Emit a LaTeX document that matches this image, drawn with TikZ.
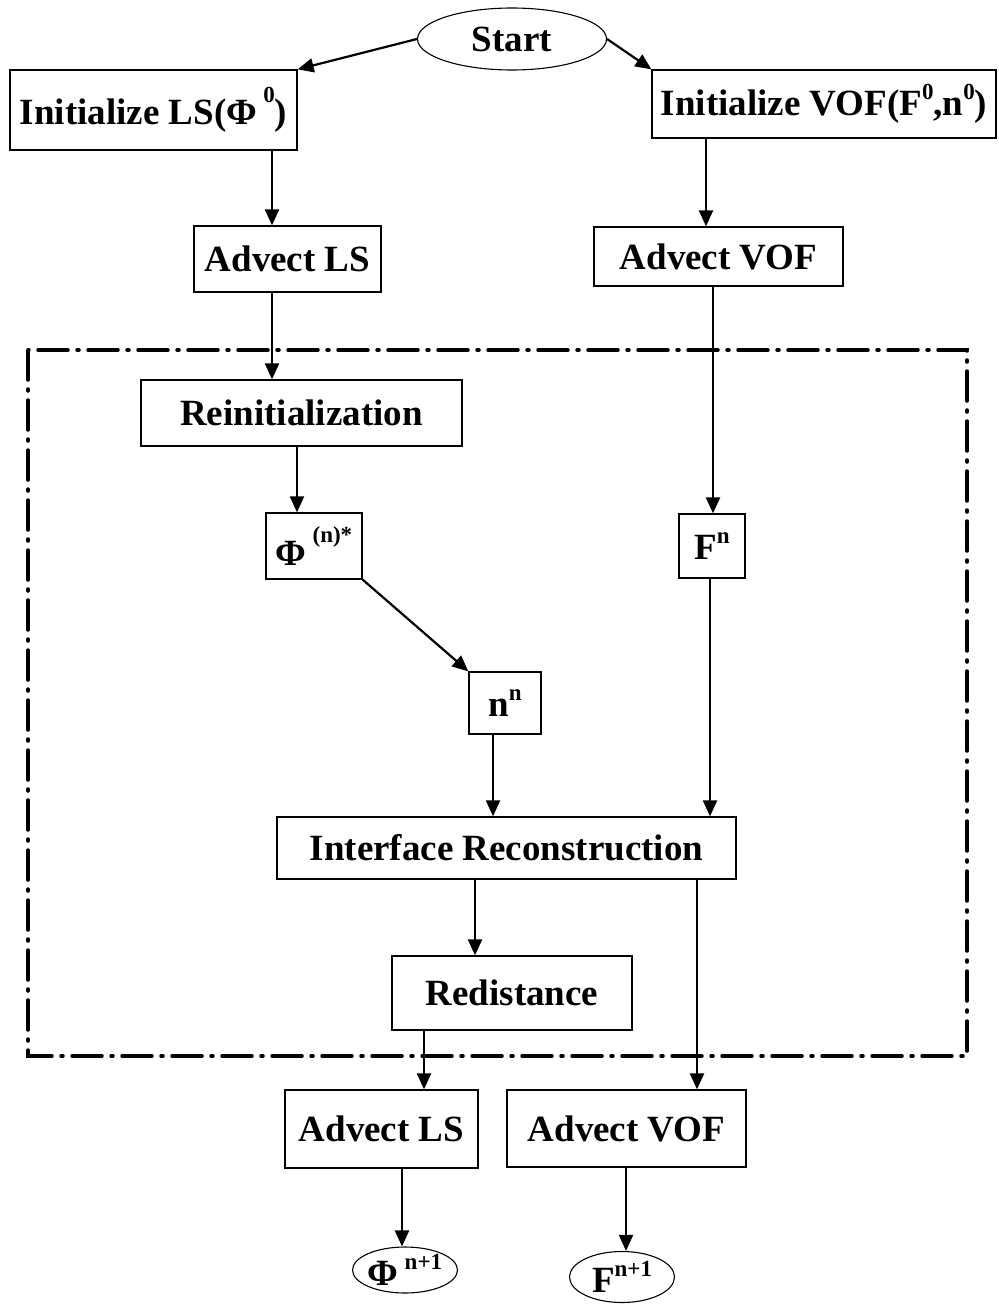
\documentclass[tikz,border=0pt]{standalone}
\usepackage{fontspec}
\setmainfont{Liberation Serif}
\usetikzlibrary{arrows.meta,shapes.geometric}
\newcommand{\supr}[1]{\raisebox{0.42em}{\fontsize{23}{23}\selectfont #1}}
\newcommand{\suphi}[1]{\raisebox{0.6em}{\fontsize{23}{23}\selectfont #1}}
\tikzset{
  box/.style={draw, line width=1.3pt, inner sep=0pt, font=\fontsize{37}{42}\selectfont\bfseries},
  oval/.style={ellipse, draw, line width=1.1pt, inner sep=0pt, font=\fontsize{37}{42}\selectfont\bfseries},
  arr/.style={line width=2.2pt, -{Triangle[length=16pt,width=14pt]}},
  frame/.style={line width=3.5pt, dash pattern=on 30pt off 9pt on 2pt off 9pt, line cap=round}
}
\begin{document}
\begin{tikzpicture}[x=1pt,y=-1pt]
\useasboundingbox (0,0) rectangle (998,1305);
\draw[frame] (28,350) rectangle (967,1056);

\node[oval, minimum width=189pt, minimum height=62pt] (start) at (512,39) {Start};
\node[box, minimum width=287pt, minimum height=80pt] (ils) at (153.5,110) {Initialize LS(Φ\,\suphi{0})};
\node[box, minimum width=344pt, minimum height=68pt] (ivof) at (824,104) {Initialize VOF(F\supr{0},n\supr{0})};
\node[box, minimum width=187pt, minimum height=66pt] (als) at (287.5,259) {Advect LS};
\node[box, minimum width=249pt, minimum height=59pt] (avof) at (718.5,256.5) {Advect VOF};
\node[box, minimum width=321pt, minimum height=66pt] (rein) at (301.5,413) {Reinitialization};
\node[box, minimum width=96pt, minimum height=66pt] (phi) at (314,546) {Φ\,\suphi{(n)*}};
\node[box, minimum width=66pt, minimum height=64pt] (fn) at (712,546) {F\supr{n}};
\node[box, minimum width=72pt, minimum height=62pt] (nn) at (505,703) {n\supr{n}};
\node[box, minimum width=459pt, minimum height=62pt] (ir) at (506.5,848) {Interface Reconstruction};
\node[box, minimum width=240pt, minimum height=74pt] (red) at (512,993) {Redistance};
\node[box, minimum width=193pt, minimum height=78pt] (als2) at (381.5,1129) {Advect LS};
\node[box, minimum width=239pt, minimum height=77pt] (avof2) at (626.5,1128.5) {Advect VOF};
\node[oval, minimum width=105pt, minimum height=46pt] (phie) at (405,1270) {Φ\,\supr{n+1}};
\node[oval, minimum width=105pt, minimum height=51pt] (fe) at (622,1277) {F\supr{n+1}};

\draw[arr] (start.west) -- (ils.north east);
\draw[arr] (start.east) -- (ivof.north west);
\draw[arr] ([xshift=118.5pt]ils.south) -- ([xshift=-15.5pt]als.north);
\draw[arr] ([xshift=-118pt]ivof.south) -- ([xshift=-12.5pt]avof.north);
\draw[arr] ([xshift=-15.5pt]als.south) -- ([xshift=-29.5pt]rein.north);
\draw[arr] ([xshift=-4.5pt]rein.south) -- ([xshift=-17pt]phi.north);
\draw[arr] ([xshift=-5.5pt]avof.south) -- ([xshift=1pt]fn.north);
\draw[arr] (phi.south east) -- (nn.north west);
\draw[arr] ([xshift=-12pt]nn.south) -- ([xshift=-13.5pt]ir.north);
\draw[arr] ([xshift=-2pt]fn.south) -- ([xshift=203.5pt]ir.north);
\draw[arr] ([xshift=-31.5pt]ir.south) -- ([xshift=-37pt]red.north);
\draw[arr] ([xshift=-88pt]red.south) -- ([xshift=42.5pt]als2.north);
\draw[arr] ([xshift=190.5pt]ir.south) -- ([xshift=70.5pt]avof2.north);
\draw[arr] ([xshift=20.5pt]als2.south) -- ([xshift=-3pt]phie.north);
\draw[arr] ([xshift=-0.5pt]avof2.south) -- ([xshift=4pt]fe.north);
\end{tikzpicture}
\end{document}
